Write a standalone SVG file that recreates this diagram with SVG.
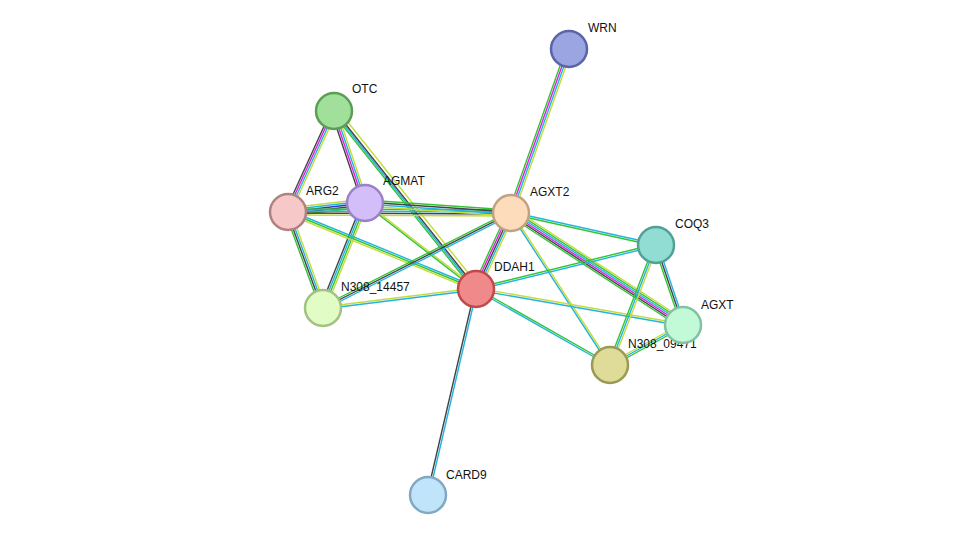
<svg xmlns="http://www.w3.org/2000/svg" xmlns:xlink="http://www.w3.org/1999/xlink" width="975" height="542" viewBox="0 0 975 542">
<style>
.g{stroke:#33c433}.c{stroke:#22b4e0}.k{stroke:#444}.m{stroke:#e020e0}.y{stroke:#c4dc3a}.b{stroke:#3038c0}
use{stroke-width:1.4;fill:none}
circle{stroke-width:2.5}
text{font-family:"Liberation Sans",Arial,sans-serif;font-size:12px;fill:#111}
</style>
<defs>
<line id="e1" x1="569" y1="49" x2="511" y2="213"/>
<line id="e2" x1="334" y1="111" x2="288" y2="212"/>
<line id="e3" x1="334" y1="111" x2="365" y2="203"/>
<line id="e4" x1="334" y1="111" x2="476" y2="289"/>
<line id="e5" x1="288" y1="212" x2="365" y2="203"/>
<line id="e6" x1="288" y1="212" x2="511" y2="213"/>
<line id="e7" x1="365" y1="203" x2="511" y2="213"/>
<line id="e8" x1="288" y1="212" x2="323" y2="308"/>
<line id="e9" x1="365" y1="203" x2="323" y2="308"/>
<line id="e10" x1="288" y1="212" x2="476" y2="289"/>
<line id="e11" x1="365" y1="203" x2="476" y2="289"/>
<line id="e12" x1="323" y1="308" x2="511" y2="213"/>
<line id="e13" x1="323" y1="308" x2="476" y2="289"/>
<line id="e14" x1="511" y1="213" x2="476" y2="289"/>
<line id="e15" x1="511" y1="213" x2="656" y2="245"/>
<line id="e16" x1="511" y1="213" x2="683" y2="325"/>
<line id="e17" x1="511" y1="213" x2="610" y2="365"/>
<line id="e18" x1="476" y1="289" x2="656" y2="245"/>
<line id="e19" x1="476" y1="289" x2="683" y2="325"/>
<line id="e20" x1="476" y1="289" x2="610" y2="365"/>
<line id="e21" x1="476" y1="289" x2="428" y2="495"/>
<line id="e22" x1="656" y1="245" x2="683" y2="325"/>
<line id="e23" x1="656" y1="245" x2="610" y2="365"/>
<line id="e24" x1="683" y1="325" x2="610" y2="365"/>
</defs>
<rect width="975" height="542" fill="#fff"/>
<g id="connectors">
<use href="#e1" class="g" transform="translate(-3,0)"/><use href="#e1" class="m" transform="translate(-1,0)"/><use href="#e1" class="c" transform="translate(1,0)"/><use href="#e1" class="y" transform="translate(3,0)"/>
<use href="#e2" class="k" transform="translate(-3,0)"/><use href="#e2" class="m" transform="translate(-1,0)"/><use href="#e2" class="c" transform="translate(1,0)"/><use href="#e2" class="y" transform="translate(3,0)"/>
<use href="#e3" class="k" transform="translate(-3,0)"/><use href="#e3" class="m" transform="translate(-1,0)"/><use href="#e3" class="c" transform="translate(1,0)"/><use href="#e3" class="y" transform="translate(3,0)"/>
<use href="#e4" class="g" transform="translate(-3,0)"/><use href="#e4" class="c" transform="translate(-1,0)"/><use href="#e4" class="k" transform="translate(1,0)"/><use href="#e4" class="y" transform="translate(5,0)"/>
<use href="#e5" class="y" transform="translate(0,-4)"/><use href="#e5" class="c" transform="translate(0,-2)"/><use href="#e5" class="b" transform="translate(0,0)"/><use href="#e5" class="k" transform="translate(0,2)"/><use href="#e5" class="g" transform="translate(0,4)"/>
<use href="#e6" class="g" transform="translate(0,-3)"/><use href="#e6" class="c" transform="translate(0,-1)"/><use href="#e6" class="k" transform="translate(0,1)"/><use href="#e6" class="y" transform="translate(0,3)"/>
<use href="#e7" class="g" transform="translate(0,-3)"/><use href="#e7" class="k" transform="translate(0,-1)"/><use href="#e7" class="c" transform="translate(0,1)"/><use href="#e7" class="y" transform="translate(0,3)"/>
<use href="#e8" class="g" transform="translate(-3,0)"/><use href="#e8" class="k" transform="translate(-1,0)"/><use href="#e8" class="c" transform="translate(1,0)"/><use href="#e8" class="y" transform="translate(3,0)"/>
<use href="#e9" class="k" transform="translate(-3,0)"/><use href="#e9" class="c" transform="translate(-1,0)"/><use href="#e9" class="g" transform="translate(1,0)"/><use href="#e9" class="y" transform="translate(3,0)"/>
<use href="#e10" class="c" transform="translate(0,-2)"/><use href="#e10" class="g" transform="translate(0,0)"/><use href="#e10" class="y" transform="translate(0,2)"/>
<use href="#e11" class="y" transform="translate(0,-1)"/><use href="#e11" class="g" transform="translate(0,1)"/>
<use href="#e12" class="g" transform="translate(0,-2)"/><use href="#e12" class="k" transform="translate(0,0)"/><use href="#e12" class="c" transform="translate(0,2)"/>
<use href="#e13" class="y" transform="translate(0,-1)"/><use href="#e13" class="c" transform="translate(0,1)"/>
<use href="#e14" class="g" transform="translate(-4,0)"/><use href="#e14" class="m" transform="translate(-2,0)"/><use href="#e14" class="k" transform="translate(0,0)"/><use href="#e14" class="c" transform="translate(2,0)"/><use href="#e14" class="y" transform="translate(4,0)"/>
<use href="#e15" class="c" transform="translate(0,-1)"/><use href="#e15" class="g" transform="translate(0,1)"/>
<use href="#e16" class="y" transform="translate(0,-6)"/><use href="#e16" class="g" transform="translate(0,-4)"/><use href="#e16" class="c" transform="translate(0,-2)"/><use href="#e16" class="m" transform="translate(0,0)"/><use href="#e16" class="k" transform="translate(0,2)"/><use href="#e16" class="g" transform="translate(0,4)"/>
<use href="#e17" class="c" transform="translate(-1,0)"/><use href="#e17" class="y" transform="translate(1,0)"/>
<use href="#e18" class="g" transform="translate(0,-1)"/><use href="#e18" class="c" transform="translate(0,1)"/>
<use href="#e19" class="y" transform="translate(0,-1)"/><use href="#e19" class="c" transform="translate(0,1)"/>
<use href="#e20" class="g" transform="translate(0,-1)"/><use href="#e20" class="c" transform="translate(0,1)"/>
<use href="#e21" class="k" transform="translate(-1,0)"/><use href="#e21" class="c" transform="translate(1,0)"/>
<use href="#e22" class="g" transform="translate(-2,0)"/><use href="#e22" class="k" transform="translate(0,0)"/><use href="#e22" class="c" transform="translate(2,0)"/>
<use href="#e23" class="g" transform="translate(-2,0)"/><use href="#e23" class="c" transform="translate(0,0)"/><use href="#e23" class="y" transform="translate(2,0)"/>
<use href="#e24" class="g" transform="translate(0,2)"/><use href="#e24" class="c" transform="translate(0,0)"/><use href="#e24" class="y" transform="translate(0,-2)"/>
</g>
<g id="WRN"><circle cx="569" cy="49" r="18" fill="#9aa5e2" stroke="#5a64a6"/><text x="588" y="32">WRN</text></g>
<g id="OTC"><circle cx="334" cy="111" r="18" fill="#a0e09a" stroke="#5c9e56"/><text x="352" y="93">OTC</text></g>
<g id="ARG2"><circle cx="288" cy="212" r="18" fill="#f6c8c8" stroke="#b08282"/><text x="306" y="195">ARG2</text></g>
<g id="AGMAT"><circle cx="365" cy="203" r="18" fill="#d3befa" stroke="#9a82c8"/><text x="383" y="185">AGMAT</text></g>
<g id="AGXT2"><circle cx="511" cy="213" r="18" fill="#fddcbc" stroke="#c0a282"/><text x="530" y="196">AGXT2</text></g>
<g id="COQ3"><circle cx="656" cy="245" r="18" fill="#92ddd3" stroke="#52a096"/><text x="675" y="228">COQ3</text></g>
<g id="DDAH1"><circle cx="476" cy="289" r="18" fill="#f08a8a" stroke="#c04a4a"/><text x="494" y="271">DDAH1</text></g>
<g id="N308_14457"><circle cx="323" cy="308" r="18" fill="#e2fcc6" stroke="#a2c282"/><text x="341" y="291">N308_14457</text></g>
<g id="N308_09471"><circle cx="610" cy="365" r="18" fill="#dedc98" stroke="#9a9a56"/><text x="628" y="348">N308_09471</text></g>
<g id="AGXT"><circle cx="683" cy="325" r="18" fill="#c2fad8" stroke="#82c2a2"/><text x="701" y="309">AGXT</text></g>
<g id="CARD9"><circle cx="428" cy="495" r="18" fill="#c0e4fa" stroke="#82a8c2"/><text x="446" y="479">CARD9</text></g>
</svg>
